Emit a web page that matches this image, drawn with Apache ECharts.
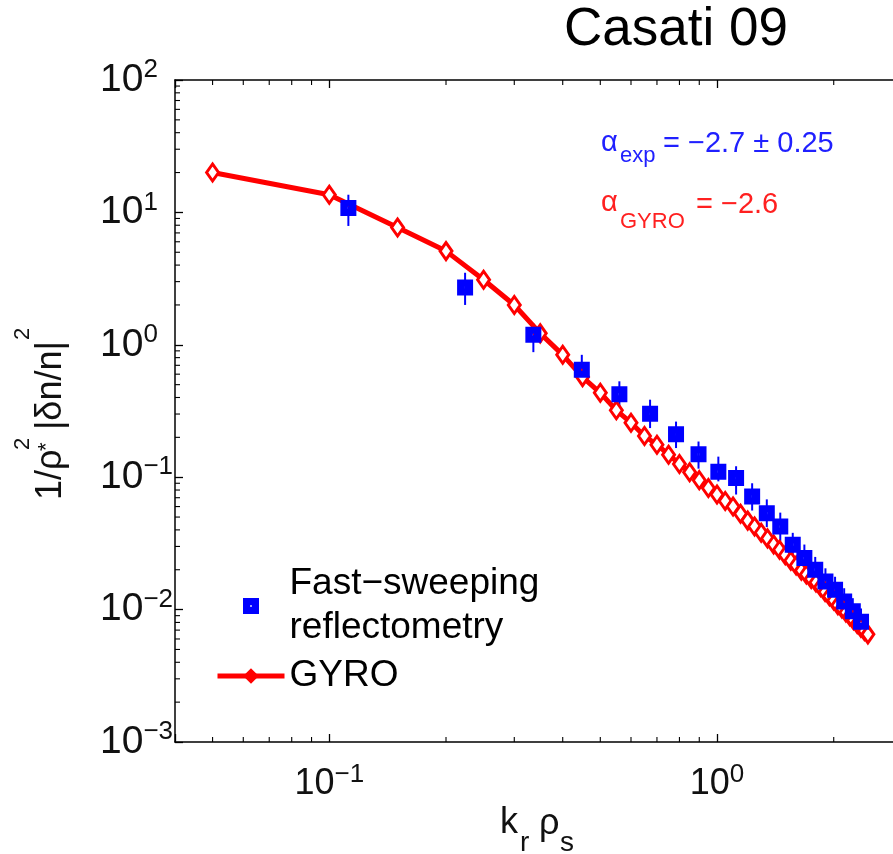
<!DOCTYPE html>
<html>
<head>
<meta charset="utf-8">
<script src="https://cdn.jsdelivr.net/npm/echarts@6/dist/echarts.min.js"></script>
<style>
  html, body { margin: 0; padding: 0; background: #fff; }
  #chart { width: 893px; height: 854px; }
</style>
</head>
<body>
<div id="chart"></div>
<script>
// GYRO simulation spectrum (k_r rho_s, normalised density fluctuation power)
const gyroK = [0.05, 0.10, 0.15, 0.20, 0.25, 0.30, 0.35, 0.40, 0.45, 0.50,
               0.55, 0.60, 0.65, 0.70, 0.75, 0.80, 0.85, 0.90, 0.95, 1.00,
               1.05, 1.10, 1.15, 1.20, 1.25, 1.30, 1.35, 1.40, 1.45, 1.50,
               1.55, 1.60, 1.65, 1.70, 1.75, 1.80, 1.85, 1.90, 1.95, 2.00,
               2.05, 2.10, 2.15, 2.20, 2.25, 2.30, 2.35, 2.40, 2.45];
const gyroY = [20, 13.6, 7.7, 5.1, 3.1, 2.0, 1.22, 0.84, 0.57, 0.434,
               0.32, 0.258, 0.205, 0.176, 0.148, 0.126, 0.109, 0.095, 0.083, 0.074,
               0.0662, 0.060, 0.053, 0.047, 0.0425, 0.038, 0.0345, 0.031, 0.0283, 0.0257,
               0.0234, 0.0215, 0.0197, 0.0184, 0.0170, 0.0160, 0.0148, 0.0136, 0.0126, 0.0117,
               0.0108, 0.0102, 0.0095, 0.0089, 0.0083, 0.0078, 0.0073, 0.0069, 0.0065];

// Fast-sweeping reflectometry measurements with error bars
const fsK  = [0.112, 0.224, 0.336, 0.448, 0.560, 0.672, 0.784, 0.896, 1.008, 1.120, 1.232,
              1.344, 1.456, 1.568, 1.680, 1.792, 1.904, 2.016, 2.128, 2.240, 2.352];
const fsY  = [10.8, 2.71, 1.19, 0.648, 0.424, 0.301, 0.211, 0.149, 0.110, 0.0985, 0.0715,
              0.0535, 0.0424, 0.0309, 0.0245, 0.0200, 0.0163, 0.0141, 0.0115, 0.0097, 0.0081];
const fsLo = [7.9, 2.0, 0.88, 0.50, 0.33, 0.235, 0.166, 0.116, 0.093, 0.074, 0.056,
              0.042, 0.033, 0.024, 0.019, 0.0156, 0.0127, 0.011, 0.009, 0.0076, 0.0063];
const fsHi = [13.6, 3.5, 1.45, 0.84, 0.53, 0.385, 0.263, 0.186, 0.143, 0.121, 0.090,
              0.068, 0.054, 0.038, 0.031, 0.025, 0.0205, 0.0177, 0.0145, 0.0122, 0.0102];

// Axis ranges and minor tick positions
const xRange = [0.04, 3];
const yRange = [1e-3, 100];
const xMinorTicks = [0.05, 0.06, 0.07, 0.08, 0.09, 0.2, 0.3, 0.4, 0.5, 0.6, 0.7, 0.8, 0.9, 2];
const yMinorTicks = [];
[1e-3, 1e-2, 1e-1, 1, 10].forEach(function (d) {
  [2, 3, 4, 5, 6, 7, 8, 9].forEach(function (m) { yMinorTicks.push(+(d * m).toPrecision(3)); });
});

const FONT = '"Liberation Sans", Arial, Helvetica, sans-serif';
const FS_NAME = 'Fast\u2212sweeping reflectometry';
const SQUARE = 'path://M0,0L10,0L10,10L0,10Z M4.6,4.3L4.6,5.7L5.4,5.7L5.4,4.3Z';

function powerLabel(v) {
  const e = Math.log10(v);
  const r = Math.round(e);
  if (Math.abs(e - r) > 1e-6) return '';
  return '{b|10}{s|' + (r < 0 ? '\u2212' + (-r) : String(r)) + '}';
}

const axisLineStyle = { show: true, onZero: false, lineStyle: { color: '#000', width: 1.5 } };
const majorTick = { show: true, inside: true, length: 8, lineStyle: { color: '#000', width: 1.3 } };

const chart = echarts.init(document.getElementById('chart'), null, { renderer: 'canvas' });

chart.setOption({
  animation: false,
  backgroundColor: '#fff',
  grid: { left: 175, top: 80, width: 727, height: 662, containLabel: false, outerBoundsMode: 'none' },
  xAxis: [{
    type: 'log', logBase: 10, min: xRange[0], max: xRange[1], position: 'bottom',
    axisLine: axisLineStyle, axisTick: majorTick, splitLine: { show: false },
    axisLabel: {
      formatter: powerLabel, margin: 20, color: '#111',
      rich: {
        b: { fontSize: 36, lineHeight: 44, fontFamily: FONT, color: '#111' },
        s: { fontSize: 26, lineHeight: 26, verticalAlign: 'top', fontFamily: FONT, color: '#111' }
      }
    }
  }, {
    type: 'log', logBase: 10, min: xRange[0], max: xRange[1], position: 'top',
    axisLine: axisLineStyle, axisTick: majorTick, axisLabel: { show: false }, splitLine: { show: false }
  }],
  yAxis: [{
    type: 'log', logBase: 10, min: yRange[0], max: yRange[1], position: 'left',
    axisLine: axisLineStyle, axisTick: majorTick, splitLine: { show: false },
    axisLabel: {
      formatter: powerLabel, margin: 75, align: 'left', color: '#111',
      rich: {
        b: { fontSize: 39, lineHeight: 46, fontFamily: FONT, color: '#111' },
        s: { fontSize: 26, lineHeight: 32, verticalAlign: 'top', fontFamily: FONT, color: '#111' }
      }
    }
  }, {
    type: 'log', logBase: 10, min: yRange[0], max: yRange[1], position: 'right',
    axisLine: axisLineStyle, axisTick: majorTick, axisLabel: { show: false }, splitLine: { show: false }
  }],
  legend: {
    data: [
      { name: FS_NAME },
      { name: 'GYRO', lineStyle: { width: 5, color: '#ff0000' },
        itemStyle: { color: '#ff0000', borderColor: '#ff0000', borderWidth: 2 } }
    ],
    orient: 'vertical', left: 215, top: 562, padding: 0,
    itemWidth: 67, itemHeight: 16, itemGap: 4,
    selectedMode: false,
    formatter: function (n) { return n === FS_NAME ? 'Fast\u2212sweeping\nreflectometry' : n; },
    textStyle: { fontSize: 37, lineHeight: 44, fontFamily: FONT, color: '#000' }
  },
  series: [{
    // minor ticks on all four sides of the box
    type: 'custom', silent: true, z: 1,
    data: [[1, 1]],
    renderItem: function (params, api) {
      const kids = [];
      const st = { stroke: '#000', lineWidth: 1.1 };
      xMinorTicks.forEach(function (v) {
        const b = api.coord([v, yRange[0]]);
        const t = api.coord([v, yRange[1]]);
        kids.push({ type: 'line', shape: { x1: b[0], y1: b[1], x2: b[0], y2: b[1] - 5 }, style: st });
        kids.push({ type: 'line', shape: { x1: t[0], y1: t[1], x2: t[0], y2: t[1] + 5 }, style: st });
      });
      yMinorTicks.forEach(function (v) {
        const l = api.coord([xRange[0], v]);
        const r = api.coord([xRange[1], v]);
        kids.push({ type: 'line', shape: { x1: l[0], y1: l[1], x2: l[0] + 5, y2: l[1] }, style: st });
        kids.push({ type: 'line', shape: { x1: r[0], y1: r[1], x2: r[0] - 5, y2: r[1] }, style: st });
      });
      return { type: 'group', children: kids };
    }
  }, {
    // error bars of the reflectometry points
    type: 'custom', silent: true, z: 2,
    data: fsK.map(function (k, i) { return [k, fsLo[i], fsHi[i]]; }),
    encode: { x: 0, y: [1, 2] },
    renderItem: function (params, api) {
      const p1 = api.coord([api.value(0), api.value(1)]);
      const p2 = api.coord([api.value(0), api.value(2)]);
      return { type: 'line', shape: { x1: p1[0], y1: p1[1], x2: p2[0], y2: p2[1] },
               style: { stroke: '#0000ff', lineWidth: 2 } };
    }
  }, {
    name: 'GYRO', type: 'line', z: 3, silent: true,
    data: gyroK.map(function (k, i) { return [k, gyroY[i]]; }),
    symbol: 'diamond', symbolSize: [12, 17], showAllSymbol: true,
    lineStyle: { color: '#ff0000', width: 5 },
    itemStyle: { color: '#ffffff', borderColor: '#ff0000', borderWidth: 3 },
    emphasis: { disabled: true }
  }, {
    name: FS_NAME, type: 'scatter', z: 4, silent: true,
    data: fsK.map(function (k, i) { return [k, fsY[i]]; }),
    symbol: SQUARE, symbolSize: 16,
    itemStyle: { color: '#0000ff', opacity: 1 },
    emphasis: { disabled: true }
  }],
  graphic: [
    { type: 'text', x: 676, y: 30, style: { text: 'Casati 09', font: '53px ' + FONT, fill: '#000', align: 'center', verticalAlign: 'middle' } },
    // spectral index annotations
    { type: 'text', x: 601, y: 143, style: { text: '\u03b1', font: '29px ' + FONT, fill: '#2020ff', align: 'left', verticalAlign: 'middle' } },
    { type: 'text', x: 620, y: 156, style: { text: 'exp', font: '22px ' + FONT, fill: '#2020ff', align: 'left', verticalAlign: 'middle' } },
    { type: 'text', x: 663, y: 144, style: { text: '= \u22122.7 \u00b1 0.25', font: '29px ' + FONT, fill: '#2020ff', align: 'left', verticalAlign: 'middle' } },
    { type: 'text', x: 601, y: 203, style: { text: '\u03b1', font: '29px ' + FONT, fill: '#ff2020', align: 'left', verticalAlign: 'middle' } },
    { type: 'text', x: 620, y: 222, style: { text: 'GYRO', font: '22px ' + FONT, fill: '#ff2020', align: 'left', verticalAlign: 'middle' } },
    { type: 'text', x: 696, y: 205, style: { text: '= \u22122.6', font: '29px ' + FONT, fill: '#ff2020', align: 'left', verticalAlign: 'middle' } },
    // x axis name: k_r rho_s
    { type: 'text', x: 500, y: 823, style: { text: 'k', font: '36px ' + FONT, fill: '#111', align: 'left', verticalAlign: 'middle' } },
    { type: 'text', x: 520, y: 843, style: { text: 'r', font: '28px ' + FONT, fill: '#111', align: 'left', verticalAlign: 'middle' } },
    { type: 'text', x: 539, y: 824, style: { text: '\u03c1', font: '36px ' + FONT, fill: '#111', align: 'left', verticalAlign: 'middle' } },
    { type: 'text', x: 560, y: 843, style: { text: 's', font: '28px ' + FONT, fill: '#111', align: 'left', verticalAlign: 'middle' } },
    // y axis name: 1/rho_*^2 |dn/n|^2, reading upwards
    { type: 'group', x: 64, y: 500, rotation: Math.PI / 2, children: [
      { type: 'text', x: 0, y: -12.6, style: { text: '1/\u03c1', font: '36px ' + FONT, fill: '#111', align: 'left', verticalAlign: 'middle' } },
      { type: 'text', x: 50, y: -41, style: { text: '2', font: '22px ' + FONT, fill: '#111', align: 'left', verticalAlign: 'middle' } },
      { type: 'text', x: 49, y: -17, style: { text: '*', font: '22px ' + FONT, fill: '#111', align: 'left', verticalAlign: 'middle' } },
      { type: 'text', x: 70, y: -12.6, style: { text: '|\u03b4n/n|', font: '36px ' + FONT, fill: '#111', align: 'left', verticalAlign: 'middle' } },
      { type: 'text', x: 160, y: -41, style: { text: '2', font: '22px ' + FONT, fill: '#111', align: 'left', verticalAlign: 'middle' } }
    ] }
  ]
});
</script>
</body>
</html>
